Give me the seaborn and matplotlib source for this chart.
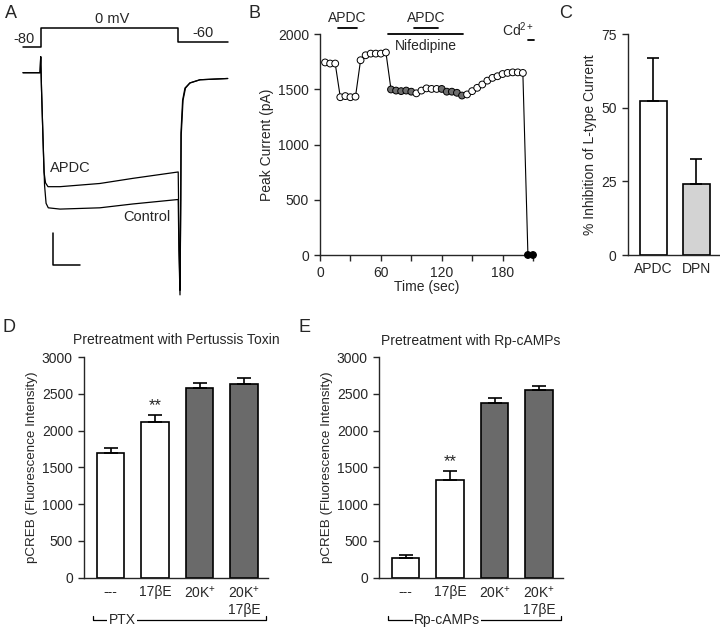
import numpy as np
import pandas as pd
import matplotlib
matplotlib.use("Agg")
import matplotlib.pyplot as plt
import seaborn as sns

# ---------------- A: voltage protocol (ms, mV) and currents (ms, nA)
protocol_t = [-13, 0, 0, 100, 100, 136]
protocol_v = [-80, -80, 0, 0, -60, -60]

control_t = [-12.9, -0.5, 0.0, 0.6, 1.7, 2.8, 3.9, 5.5, 14, 43, 67, 100,
             100.5, 101.3, 101.8, 102.0, 103.2, 104.9, 108.5, 115.8, 136]
control_i = [0, 0, 0.25, -0.27, -1.05, -1.76, -2.04, -2.11, -2.13, -2.11, -2.05, -1.98,
             -2.77, -3.47, -1.99, -0.94, -0.43, -0.24, -0.16, -0.11, -0.09]
apdc_t = [-12.9, -0.5, 0.0, 0.6, 1.7, 2.4, 3.5, 5.3, 14, 43, 67, 100,
          100.7, 101.3, 101.9, 102.2, 103.5, 105.3, 108.5, 115.8, 136]
apdc_i = [0, 0, 0.25, -0.27, -1.05, -1.55, -1.72, -1.78, -1.78, -1.73, -1.65, -1.55,
          -2.77, -3.40, -1.99, -0.97, -0.43, -0.24, -0.16, -0.11, -0.09]
scalebar_t = [8.7, 8.7, 28.7]
scalebar_i = [-2.5, -3.0, -3.0]

# ---------------- B: peak current time course
time_s = list(range(5, 215, 5))
peak_pA = [1745, 1735, 1735, 1430, 1440, 1430, 1435, 1765, 1810, 1825, 1825, 1825,
           1835, 1500, 1490, 1485, 1490, 1480, 1465, 1490, 1510, 1505, 1505, 1505,
           1480, 1480, 1470, 1445, 1455, 1485, 1515, 1545, 1580, 1605, 1620, 1640,
           1650, 1655, 1655, 1650, 0, 0]
point_state = (["open"] * 13 + ["nif"] * 5 + ["open"] * 5 + ["nif"] * 5
               + ["open"] * 12 + ["cd"] * 2)
b_treatments = [("APDC", 17.4, 36.7, 2055, 2150),
                ("APDC", 92.9, 116.5, 2055, 2150),
                ("Nifedipine", 67.3, 141.2, 2002, 1890),
                ("Cd$^{2+}$", 205, 211, 1950, 2040)]

# ---------------- C: % inhibition
c_cats = ["APDC", "DPN"]
c_mean = [52.5, 24.0]
c_err = [14.5, 8.5]

# ---------------- D / E: pCREB
de_cats = ["---", "17βE", "20K$^{+}$", "20K$^{+}$\n17βE"]
d_mean = [1700, 2120, 2575, 2635]
d_err = [60, 85, 65, 80]
e_mean = [270, 1330, 2380, 2545]
e_err = [45, 115, 60, 60]
de_sig = ["", "**", "", ""]

sns.set_style("ticks")
plt.rcParams["font.family"] = ["Liberation Sans", "DejaVu Sans"]
plt.rcParams["mathtext.fontset"] = "custom"
plt.rcParams["mathtext.rm"] = "Liberation Sans"
plt.rcParams["mathtext.it"] = "Liberation Sans:italic"
plt.rcParams["font.size"] = 10
plt.rcParams["axes.labelsize"] = 10
plt.rcParams["axes.linewidth"] = 1.0
plt.rcParams["xtick.major.width"] = 1.0
plt.rcParams["ytick.major.width"] = 1.0
plt.rcParams["xtick.major.size"] = 4.5
plt.rcParams["ytick.major.size"] = 4.5
plt.rcParams["xtick.labelsize"] = 10
plt.rcParams["ytick.labelsize"] = 10

W, H = 720, 629
fig = plt.figure(figsize=(7.2, 6.29), dpi=100)


def px_axes(x0, y0, x1, y1):
    return fig.add_axes([x0 / W, 1 - y1 / H, (x1 - x0) / W, (y1 - y0) / H])


# ---------------- A
ax_v = px_axes(15, 10, 235, 50)
ax_a = px_axes(15, 50, 235, 300)
for ax in (ax_v, ax_a):
    ax.set_xlim(-18.7, 141.3)
    ax.axis("off")
ax_v.set_ylim(-94.3, 79.6)
ax_a.set_ylim(-3.55, 0.355)
sns.lineplot(x=protocol_t, y=protocol_v, sort=False, estimator=None,
             color="black", lw=1.1, ax=ax_v)
ax_v.text(-12.1, -46, "-80", ha="center", va="center", fontsize=10.5)
ax_v.text(51.8, 40, "0 mV", ha="center", va="center", fontsize=10.5)
ax_v.text(118, -20, "-60", ha="center", va="center", fontsize=10.5)
sns.lineplot(x=control_t, y=control_i, sort=False, estimator=None,
             color="black", lw=0.9, ax=ax_a)
sns.lineplot(x=apdc_t, y=apdc_i, sort=False, estimator=None,
             color="black", lw=0.9, ax=ax_a)
sns.lineplot(x=scalebar_t, y=scalebar_i, sort=False, estimator=None,
             color="black", lw=1.1, ax=ax_a)
ax_a.text(21.3, -1.49, "APDC", ha="center", va="center", fontsize=10.5)
ax_a.text(77.3, -2.26, "Control", ha="center", va="center", fontsize=10.5)

# ---------------- B
ax_b = px_axes(320, 34.3, 533, 255)
dfb = pd.DataFrame({"t": time_s, "I": peak_pA, "state": point_state})
sns.lineplot(data=dfb, x="t", y="I", sort=False, estimator=None,
             color="black", lw=0.8, ax=ax_b)
sns.scatterplot(data=dfb, x="t", y="I", hue="state",
                palette={"open": "white", "nif": "#6e6e6e", "cd": "black"},
                edgecolor="black", linewidth=0.7, s=24, legend=False,
                ax=ax_b, zorder=3, clip_on=False)
ax_b.set_xlim(0, 210)
ax_b.set_ylim(0, 2000)
ax_b.set_xticks(range(0, 211, 30))
ax_b.set_xticklabels([str(v) if v % 60 == 0 else "" for v in range(0, 211, 30)])
ax_b.set_yticks([0, 500, 1000, 1500, 2000])
ax_b.set_xlabel("Time (sec)", labelpad=0)
ax_b.set_ylabel("Peak Current (pA)", labelpad=3)
for name, t0, t1, ybar, ytxt in b_treatments:
    ax_b.plot([t0, t1], [ybar, ybar], color="black", lw=1.3, clip_on=False)
    tx = (t0 + t1) / 2 if not name.startswith("Cd") else 195
    ax_b.text(tx, ytxt, name, ha="center", va="center", fontsize=10)
sns.despine(ax=ax_b)

# ---------------- C
ax_c = px_axes(627.7, 34.3, 720, 255)
sns.barplot(x=c_cats, y=c_mean, hue=c_cats,
            palette={"APDC": "white", "DPN": "#d3d3d3"}, legend=False,
            edgecolor="black", linewidth=1.2, width=0.62, errorbar=None, ax=ax_c)
ax_c.errorbar(range(len(c_cats)), c_mean, yerr=[np.zeros(len(c_err)), c_err],
              fmt="none", ecolor="black", elinewidth=1.2, capsize=4.6, capthick=1.2)
ax_c.set_xlim(-0.6, 1.55)
ax_c.set_ylim(0, 75)
ax_c.set_yticks([0, 25, 50, 75])
ax_c.tick_params(axis="x", length=0, pad=5)
ax_c.set_ylabel("% Inhibition of L-type Current", labelpad=3)
sns.despine(ax=ax_c)


# ---------------- D / E
def pcreb_panel(ax, mean, err, title, group):
    sns.barplot(x=de_cats, y=mean, hue=de_cats,
                palette=["white", "white", "#6a6a6a", "#6a6a6a"], legend=False,
                edgecolor="black", linewidth=1.2, width=0.62, errorbar=None, ax=ax)
    n = len(mean)
    ax.errorbar(range(n), mean, yerr=[np.zeros(n), err], fmt="none",
                ecolor="black", elinewidth=1.2, capsize=5, capthick=1.2)
    for i in range(n):
        if de_sig[i]:
            ax.text(i, mean[i] + err[i] + 30, de_sig[i], ha="center",
                    va="bottom", fontsize=12)
    ax.set_xlim(-0.6, 3.54)
    ax.set_ylim(0, 3000)
    ax.set_yticks(range(0, 3001, 500))
    ax.tick_params(axis="x", length=0, pad=5)
    ax.set_ylabel("pCREB (Fluorescence Intensity)", fontsize=9.6, labelpad=3)
    ax.set_title(title, fontsize=10, pad=9)
    tr = ax.get_xaxis_transform()
    ax.plot([-0.4, -0.4, 3.5, 3.5], [-0.175, -0.192, -0.192, -0.175],
            color="black", lw=0.9, transform=tr, clip_on=False)
    gx = 0.26 if group == "PTX" else 0.93
    ax.text(gx, -0.192, group, ha="center", va="center", transform=tr,
            fontsize=10, bbox=dict(facecolor="white", edgecolor="none", pad=1.0))
    sns.despine(ax=ax)


ax_d = px_axes(84, 357, 268, 577.7)
pcreb_panel(ax_d, d_mean, d_err, "Pretreatment with Pertussis Toxin", "PTX")
ax_e = px_axes(379, 357, 563, 577.7)
pcreb_panel(ax_e, e_mean, e_err, "Pretreatment with Rp-cAMPs", "Rp-cAMPs")

for lab, x, y in [("A", 11, 14), ("B", 255, 14), ("C", 566, 14),
                  ("D", 9, 328), ("E", 305, 328)]:
    fig.text(x / W, 1 - y / H, lab, fontsize=13, ha="center", va="center")

fig.savefig("out.png", dpi=100)
